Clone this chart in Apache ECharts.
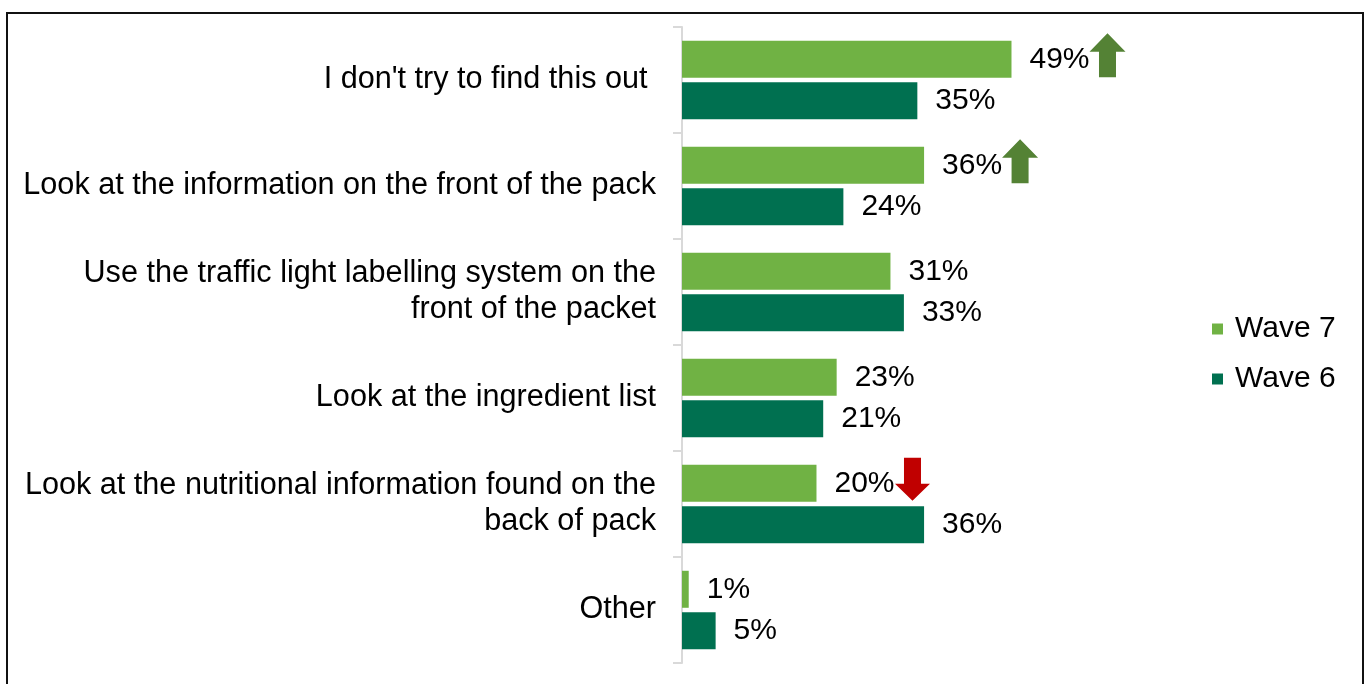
<!DOCTYPE html>
<html>
<head>
<meta charset="utf-8">
<script src="https://cdn.jsdelivr.net/npm/echarts@6/dist/echarts.min.js"></script>
<style>
  html, body { margin: 0; padding: 0; background: #fff; }
  #frame {
    position: absolute; left: 6px; top: 12px; width: 1354px; height: 700px;
    border: 2px solid #111; box-sizing: content-box;
  }
  #chart { position: absolute; left: 0; top: 0; width: 1367px; height: 684px; }
</style>
</head>
<body>
<div id="frame"></div>
<div id="chart"></div>
<script>
// Survey answers, listed top to bottom
const categories = [
  "I don't try to find this out ",
  "Look at the information on the front of the pack",
  "Use the traffic light labelling system on the\nfront of the packet",
  "Look at the ingredient list",
  "Look at the nutritional information found on the\nback of pack",
  "Other"
];
// Share of respondents (%)
const wave7 = [49, 36, 31, 23, 20, 1];
const wave6 = [35, 24, 33, 21, 36, 5];
// Significant change from Wave 6 to Wave 7
const change = ['up', 'up', null, null, 'down', null];

const FONT = "'Liberation Sans', Arial, sans-serif";
const UP = 'path://M18 0 L36 18.5 L26.5 18.5 L26.5 44 L9.5 44 L9.5 18.5 L0 18.5 Z';
const DOWN = 'path://M9 0 L26 0 L26 26 L35 26 L17.5 43 L0 26 L9 26 Z';

const arrowPoints = [];
change.forEach((c, i) => {
  if (!c) return;
  arrowPoints.push({
    coord: [wave7[i], categories[i]],
    symbol: c === 'up' ? UP : DOWN,
    symbolSize: c === 'up' ? [36, 44] : [35, 43],
    symbolOffset: [96, -4],
    itemStyle: { color: c === 'up' ? '#548235' : '#C00000' },
    label: { show: false }
  });
});

const chart = echarts.init(document.getElementById('chart'), null, { renderer: 'canvas' });
chart.setOption({
  animation: false,
  backgroundColor: 'transparent',
  textStyle: { fontFamily: FONT },
  grid: { left: 682, top: 27, bottom: 21, width: 470.7, containLabel: false },
  legend: {
    orient: 'vertical',
    left: 1207,
    top: 309,
    itemWidth: 11,
    itemHeight: 11,
    itemGap: 20,
    icon: 'rect',
    data: ['Wave 7', 'Wave 6'],
    textStyle: { fontSize: 30, color: '#000', fontFamily: FONT, lineHeight: 30, padding: [0, 0, 0, 7] }
  },
  xAxis: {
    type: 'value', min: 0, max: 70, show: false
  },
  yAxis: {
    type: 'category',
    inverse: true,
    data: categories,
    axisLine: { show: true, lineStyle: { color: '#D9D9D9', width: 2 } },
    axisTick: { show: true, length: 9, lineStyle: { color: '#D9D9D9', width: 2 } },
    axisLabel: {
      fontSize: 30.6, color: '#000', fontFamily: FONT, margin: 26, lineHeight: 36, align: 'right'
    },
    splitLine: { show: false }
  },
  series: [
    {
      name: 'Wave 7', type: 'bar', data: wave7, barWidth: 37, barGap: '12%',
      itemStyle: { color: '#70B244' },
      label: { show: true, position: 'right', distance: 18, formatter: '{c}%', fontSize: 30, color: '#000', fontFamily: FONT },
      markPoint: { data: arrowPoints, silent: true }
    },
    {
      name: 'Wave 6', type: 'bar', data: wave6, barWidth: 37, barGap: '12%',
      itemStyle: { color: '#007050' },
      label: { show: true, position: 'right', distance: 18, formatter: '{c}%', fontSize: 30, color: '#000', fontFamily: FONT }
    }
  ]
});
</script>
</body>
</html>
